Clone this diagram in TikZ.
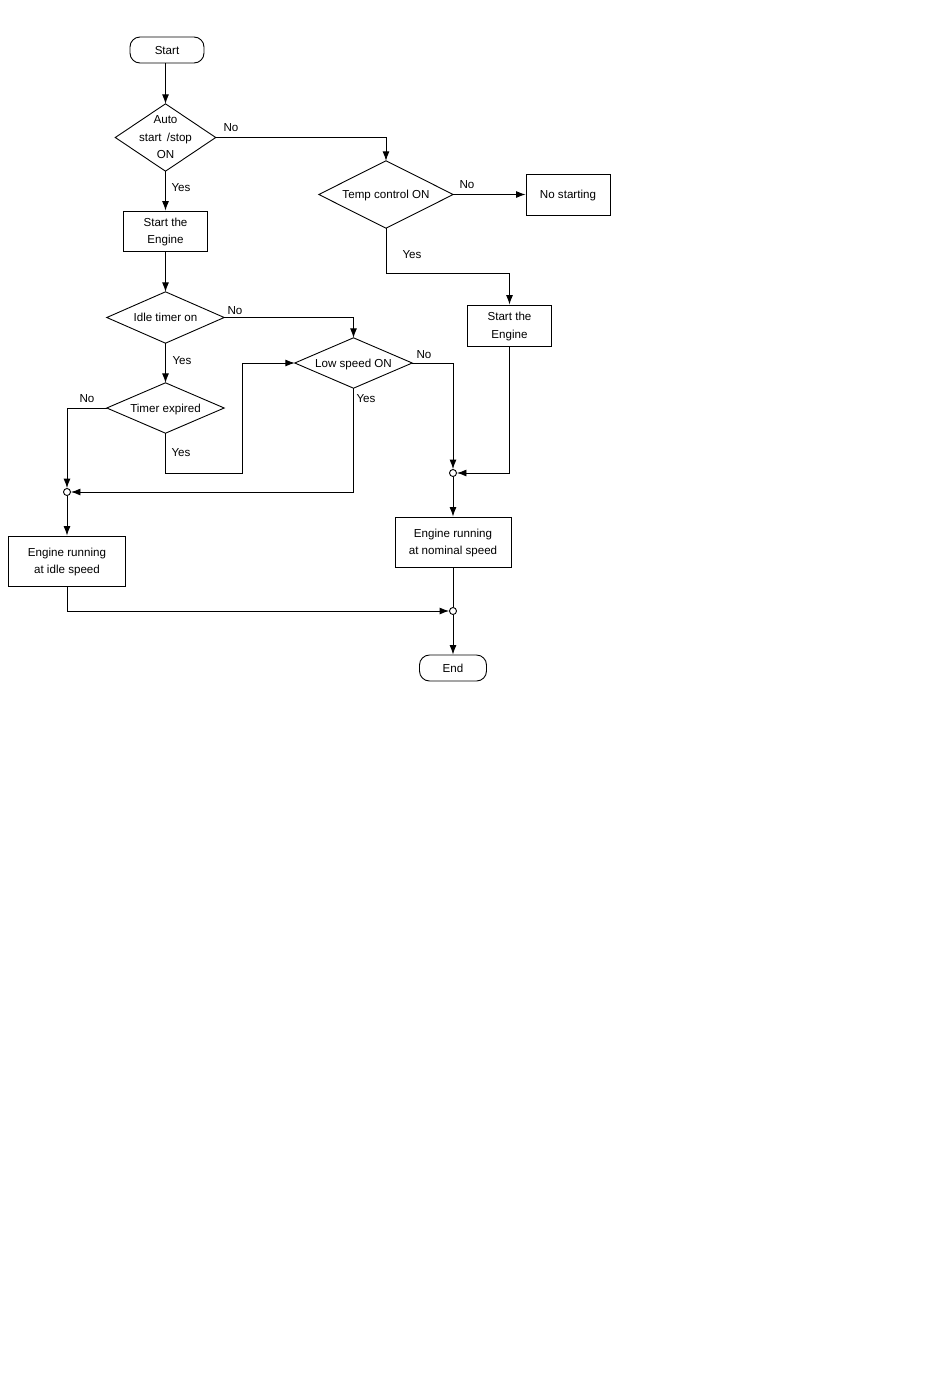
\documentclass[tikz,border=0pt]{standalone}
\usepackage{fontspec}
\setmainfont{Liberation Sans}
\usetikzlibrary{arrows.meta}
\newcommand{\fcfont}{\fontsize{11.6}{17.5}\selectfont}
\tikzset{fcline/.style={line width=0.9pt,-{Latex[length=9.5pt,width=7pt]}}}
\tikzset{procbox/.style={draw,rectangle,line width=0.9pt,align=center,inner sep=0pt,text depth=0pt,font=\fcfont}}
\tikzset{termbox/.style={procbox,rounded corners=10pt}}
\tikzset{decbox/.style={rectangle,align=center,inner sep=0pt,text depth=0pt,font=\fcfont}}
\tikzset{junction/.style={draw,circle,fill=white,line width=0.9pt,minimum size=7pt,inner sep=0pt}}
\tikzset{lbl/.style={font=\fcfont,inner sep=0pt,text depth=0pt}}

\begin{document}
\begin{tikzpicture}[x=1pt,y=-1pt]
  \useasboundingbox (0,0) rectangle (950,1387);

  \node [termbox,minimum width=74,minimum height=26] (start) at (167,50) {Start};
  \node [decbox,minimum width=100,minimum height=67] (auto) at (165.5,137.5) {Auto\\start \,/stop\\ON};
  \node [procbox,minimum width=84,minimum height=40] (eng1) at (165.5,231) {Start the\\Engine};
  \node [decbox,minimum width=117,minimum height=51] (idle) at (165.5,317.5) {Idle timer on};
  \node [decbox,minimum width=117,minimum height=50] (timer) at (165.5,408) {Timer expired};
  \node [decbox,minimum width=117,minimum height=50] (low) at (353.5,363) {Low speed ON};
  \node [decbox,minimum width=134,minimum height=67] (temp) at (386,194.5) {Temp control ON};
  \node [procbox,minimum width=84,minimum height=41] (nostart) at (568,194.5) {No starting};
  \node [procbox,minimum width=84,minimum height=41] (eng2) at (509.5,325.5) {Start the\\Engine};
  \node [procbox,minimum width=117,minimum height=50] (idlerun) at (67,561) {Engine running\\at idle speed};
  \node [procbox,minimum width=116,minimum height=50] (nomrun) at (453,542) {Engine running\\at nominal speed};
  \node [termbox,minimum width=67,minimum height=26] (end) at (453,668) {End};

  \node [junction] (j1) at (67,492) {};
  \node [junction] (j2) at (453,473) {};
  \node [junction] (j3) at (453,611) {};
  \coordinate (tbend) at (242,473);
  \coordinate (ybend) at (386,273);

  \foreach \d in {auto,idle,timer,low,temp}
    \draw [line width=0.9pt] (\d.north) -- (\d.east) -- (\d.south) -- (\d.west) -- cycle;

  \draw [fcline] (start.south -| auto.north) -- (auto.north);
  \draw [fcline] (auto.east) -| (temp.north);
  \draw [fcline] (auto.south) -- (eng1.north);
  \draw [fcline] (eng1.south) -- (idle.north);
  \draw [fcline] (idle.east) -| (low.north);
  \draw [fcline] (idle.south) -- (timer.north);
  \draw [fcline] (timer.west) -| (j1);
  \draw [fcline] (timer.south) |- (tbend) |- (low.west);
  \draw [fcline] (low.east) -| (j2);
  \draw [fcline] (low.south) |- (j1);
  \draw [fcline] (j1) -- (idlerun.north);
  \draw [fcline] (idlerun.south) |- (j3);
  \draw [fcline] (temp.east) -- (nostart.west);
  \draw [fcline] (temp.south) -- (ybend) -| (eng2.north);
  \draw [fcline] (eng2.south) |- (j2);
  \draw [fcline] (j2) -- (nomrun.north);
  \draw [line width=0.9pt] (nomrun.south) -- (j3);
  \draw [fcline] (j3) -- (end.north);

  \node [lbl] (no1)  at (231,128) {No};
  \node [lbl] (yes1) at (181,188) {Yes};
  \node [lbl] (no2)  at (467,185) {No};
  \node [lbl] (yes2) at (412,255) {Yes};
  \node [lbl] (no3)  at (235,311) {No};
  \node [lbl] (yes3) at (182,361) {Yes};
  \node [lbl] (no4)  at (87,399)  {No};
  \node [lbl] (yes4) at (181,453) {Yes};
  \node [lbl] (no5)  at (424,355) {No};
  \node [lbl] (yes5) at (366,399) {Yes};
\end{tikzpicture}
\end{document}
